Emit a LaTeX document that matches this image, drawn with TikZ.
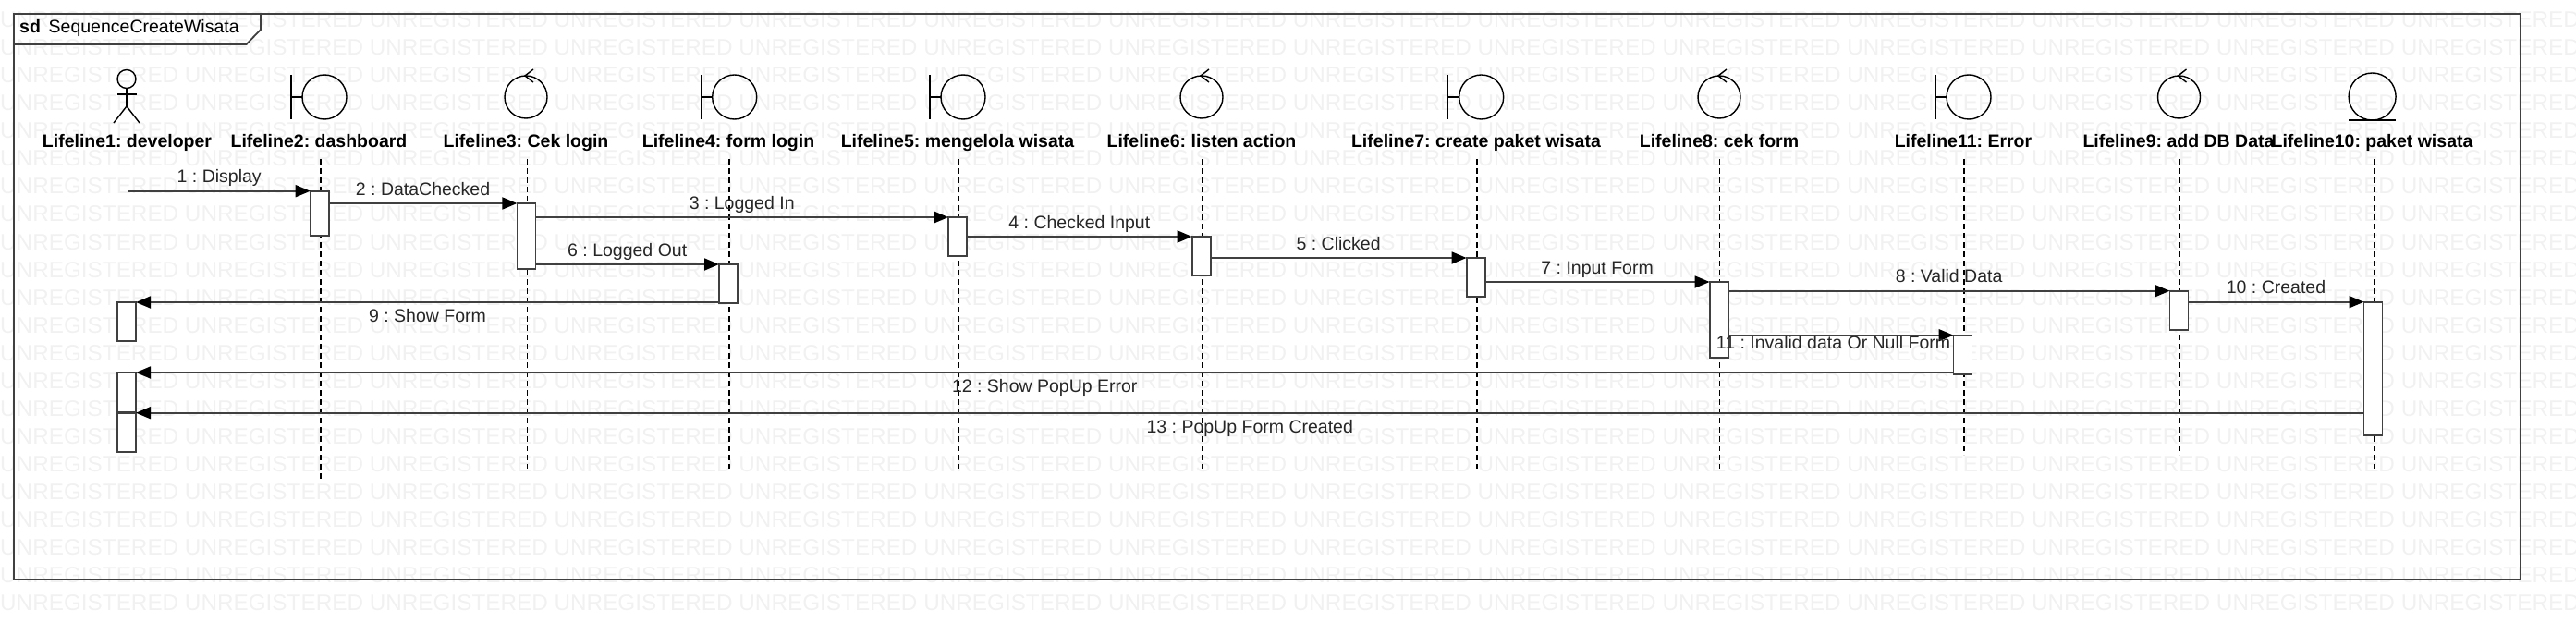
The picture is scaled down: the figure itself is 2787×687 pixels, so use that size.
\documentclass[tikz,border=0pt]{standalone}
\usepackage{fontspec}
\setmainfont{Liberation Sans}
\usetikzlibrary{arrows.meta}
\frenchspacing

\definecolor{framegray}{HTML}{404040}
\definecolor{markgray}{HTML}{F1F1F1}
\newcommand{\markrow}{UNREGISTERED UNREGISTERED UNREGISTERED UNREGISTERED UNREGISTERED UNREGISTERED UNREGISTERED UNREGISTERED UNREGISTERED UNREGISTERED UNREGISTERED UNREGISTERED UNREGISTERED UNREGISTERED}

\tikzset{
	x = 1pt, y = -1pt,
	markline/.style = {anchor = base west, inner sep = 0, text = markgray, font = \fontsize{24.3}{28}\selectfont},
	frameline/.style = {draw = framegray, line width = 1.8pt},
	title/.style = {anchor = base west, inner sep = 0, font = \fontsize{19.5}{24}\selectfont},
	lifename/.style = {anchor = base, inner sep = 0, font = \bfseries\fontsize{19.5}{24}\selectfont},
	lifeline/.style = {draw = black, line width = 1.1pt, dash pattern = on 6pt off 4pt},
	iconcircle/.style = {circle, draw = black, line width = 1.4pt, inner sep = 0, outer sep = 0},
	iconline/.style = {draw = black, line width = 1.4pt},
	actbar/.style = {draw = framegray, line width = 1.8pt, fill = white, anchor = north west, inner sep = 0, outer sep = 0, minimum width = 20pt},
	msg/.style = {draw = framegray, line width = 1.8pt, -{Triangle[length = 16pt, width = 13pt, black]}},
	msglabel/.style = {inner sep = 0, text height = 14pt, text depth = 4pt, text = black!85, font = \fontsize{19.5}{24}\selectfont},
	msgup/.style = {msglabel, above = 4pt},
	msgdown/.style = {msglabel, below = 6.5pt}
}

\begin{document}
\begin{tikzpicture}
	\useasboundingbox (0,0) rectangle (2787,687);

	% background text
	\begin{scope}
		\clip (0,0) rectangle (2787,687);
		\foreach \r in {0,...,21} {
			\node[markline] (mark\r) at (0,30+30*\r) {\markrow};
		}
	\end{scope}

	% frame
	\coordinate (frameTL) at (15,15);
	\coordinate (frameBR) at (2727,627);
	\draw[frameline] (frameTL) rectangle (frameBR);
	\draw[frameline] (282,15) -- (282,32) -- (266.5,48) -- (15,48);
	\node[title] (sd) at (21,36) {\bfseries sd};
	\node[title] (diagname) at (52.5,36) {SequenceCreateWisata};

	% lifelines
	\foreach \i/\x/\b in {1/138.8/507, 2/347/518, 3/570.5/507, 4/789/507, 5/1037/507, 6/1301/507, 7/1598/507, 8/1860.8/507, 11/2125/492, 9/2358.6/492, 10/2568.8/507} {
		\coordinate (top\i) at (\x,172);
		\coordinate (bot\i) at (\x,\b);
		\draw[lifeline] (top\i) -- (bot\i);
	}

	% icons
	\node[iconcircle, minimum size = 20pt] (head) at (137,85.5) {};
	\coordinate (hip) at (137,115);
	\draw[iconline] (head.south) -- (hip);
	\draw[iconline] (127,102) -- (148,102);
	\draw[iconline] (123,133) -- (hip) -- (151,133);

	\foreach \n/\x in {dashboard/351, formlogin/794.7, mengelola/1042, createpaket/1602.7, error/2130} {
		\node[iconcircle, minimum size = 48pt] (\n) at (\x,105) {};
		\draw[iconline] (\n.west) -- ++(-12,0) ++(0,-24) -- ++(0,48);
	}
	\foreach \n/\x in {ceklogin/569, listenaction/1300, cekform/1860, adddb/2357.5} {
		\node[iconcircle, minimum size = 46pt] (\n) at (\x,105) {};
		\draw[iconline] (\n.north) ++(8,-7) -- ++(-9,7) -- ++(9,7);
	}
	\node[iconcircle, minimum size = 51pt] (paket) at (2566.6,104.5) {};
	\draw[iconline] (paket.south) ++(-25.5,0) -- ++(51,0);

	% names
	\node[lifename] (name1) at (137.5,160) {Lifeline1: developer};
	\node[lifename] (name2) at (345,160) {Lifeline2: dashboard};
	\node[lifename] (name3) at (569,160) {Lifeline3: Cek login};
	\node[lifename] (name4) at (788,160) {Lifeline4: form login};
	\node[lifename] (name5) at (1036,160) {Lifeline5: mengelola wisata};
	\node[lifename] (name6) at (1300,160) {Lifeline6: listen action};
	\node[lifename] (name7) at (1597,160) {Lifeline7: create paket wisata};
	\node[lifename] (name8) at (1860,160) {Lifeline8: cek form};
	\node[lifename] (name11) at (2124,160) {Lifeline11: Error};
	\node[lifename] (name9) at (2357,160) {Lifeline9: add DB Data};
	\node[lifename] (name10) at (2566.5,160) {Lifeline10: paket wisata};

	% activation bars
	\node[actbar, minimum height = 48pt] (bar2) at (335.7,206.7) {};
	\node[actbar, minimum height = 71pt] (bar3) at (559.4,220) {};
	\node[actbar, minimum height = 42pt] (bar4) at (778,286) {};
	\node[actbar, minimum height = 42pt] (bar5) at (1026,235) {};
	\node[actbar, minimum height = 42pt] (bar6) at (1289.7,256) {};
	\node[actbar, minimum height = 42pt] (bar7) at (1586.6,279) {};
	\node[actbar, minimum height = 82pt] (bar8) at (1849.6,305) {};
	\node[actbar, minimum height = 42pt] (bar11) at (2113.5,362.7) {};
	\node[actbar, minimum height = 42pt] (bar9) at (2347.5,314.7) {};
	\node[actbar, minimum height = 144pt] (bar10) at (2557.5,326.7) {};
	\node[actbar, minimum height = 42pt] (devbarA) at (127,327) {};
	\node[actbar, minimum height = 42.7pt] (devbarB) at (127,403) {};
	\node[actbar, minimum height = 42.3pt] (devbarC) at (127,446.7) {};

	% messages
	\path (top1 |- bar2.north west) edge[msg] node[msgup] (msg1) {1 : Display} (bar2.north west);
	\path (bar2.east |- bar3.north west) edge[msg] node[msgup] (msg2) {2 : DataChecked} (bar3.north west);
	\path (bar3.east |- bar5.north west) edge[msg] node[msgup] (msg3) {3 : Logged In} (bar5.north west);
	\path (bar5.east |- bar6.north west) edge[msg] node[msgup] (msg4) {4 : Checked Input} (bar6.north west);
	\path (bar6.east |- bar7.north west) edge[msg] node[msgup] (msg5) {5 : Clicked} (bar7.north west);
	\path (bar3.east |- bar4.north west) edge[msg] node[msgup] (msg6) {6 : Logged Out} (bar4.north west);
	\path (bar7.east |- bar8.north west) edge[msg] node[msgup] (msg7) {7 : Input Form} (bar8.north west);
	\path (bar8.east |- bar9.north west) edge[msg] node[msgup] (msg8) {8 : Valid Data} (bar9.north west);
	\path (bar4.west |- devbarA.north east) edge[msg] node[msgdown] (msg9) {9 : Show Form} (devbarA.north east);
	\path (bar9.east |- bar10.north west) edge[msg] node[msgup] (msg10) {10 : Created} (bar10.north west);
	\path (bar8.east |- bar11.north west) edge[msg] node[msglabel, below = 0pt, xshift = -8pt] (msg11) {11 : Invalid data Or Null Form} (bar11.north west);
	\path (bar11.west |- devbarB.north east) edge[msg] node[msgdown] (msg12) {12 : Show PopUp Error} (devbarB.north east);
	\path (bar10.west |- devbarC.north east) edge[msg] node[msgdown] (msg13) {13 : PopUp Form Created} (devbarC.north east);
\end{tikzpicture}
\end{document}
